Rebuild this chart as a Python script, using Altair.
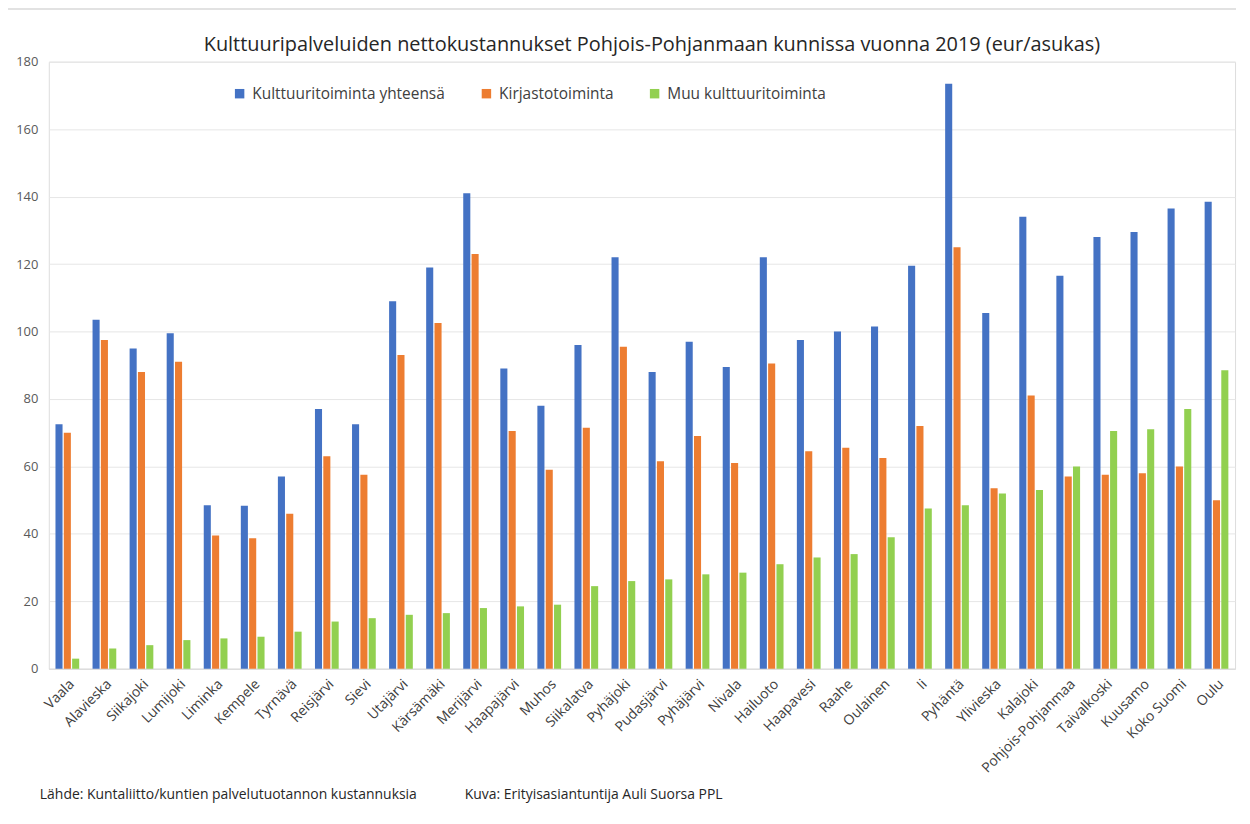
import altair as alt
import pandas as pd

categories = ["Vaala", "Alavieska", "Siikajoki", "Lumijoki", "Liminka", "Kempele", "Tyrnävä",
              "Reisjärvi", "Sievi", "Utajärvi", "Kärsämäki", "Merijärvi", "Haapajärvi", "Muhos",
              "Siikalatva", "Pyhäjoki", "Pudasjärvi", "Pyhäjärvi", "Nivala", "Hailuoto", "Haapavesi",
              "Raahe", "Oulainen", "Ii", "Pyhäntä", "Ylivieska", "Kalajoki", "Pohjois-Pohjanmaa",
              "Taivalkoski", "Kuusamo", "Koko Suomi", "Oulu"]

kulttuuri_yht = [72.5, 103.5, 95, 99.5, 48.5, 48.3, 57, 77, 72.5, 109, 119, 141, 89, 78,
                 96, 122, 88, 97, 89.5, 122, 97.5, 100, 101.5, 119.5, 173.5, 105.5, 134, 116.5,
                 128, 129.5, 136.5, 138.5]
kirjasto = [70, 97.5, 88, 91, 39.5, 38.7, 46, 63, 57.5, 93, 102.5, 123, 70.5, 59,
            71.5, 95.5, 61.5, 69, 61, 90.5, 64.5, 65.5, 62.5, 72, 125, 53.5, 81, 57,
            57.5, 58, 60, 50]
muu = [3, 6, 7, 8.5, 9, 9.5, 11, 14, 15, 16, 16.5, 18, 18.5, 19,
       24.5, 26, 26.5, 28, 28.5, 31, 33, 34, 39, 47.5, 48.5, 52, 53, 60,
       70.5, 71, 77, 88.5]

series = ["Kulttuuritoiminta yhteensä", "Kirjastotoiminta", "Muu kulttuuritoiminta"]
colors = ["#4472C4", "#ED7D31", "#92D050"]

title_text = "Kulttuuripalveluiden nettokustannukset Pohjois-Pohjanmaan kunnissa vuonna 2019 (eur/asukas)"
footer_left = "Lähde: Kuntaliitto/kuntien palvelutuotannon kustannuksia"
footer_right = "Kuva: Erityisasiantuntija Auli Suorsa PPL"

rows = []
for i, c in enumerate(categories):
    for s, vals in zip(series, [kulttuuri_yht, kirjasto, muu]):
        rows.append({"kunta": c, "sarja": s, "arvo": vals[i]})
df = pd.DataFrame(rows)

FONT = "Open Sans"

bars = alt.Chart(df).mark_bar().encode(
    x=alt.X("kunta:N", sort=categories, title=None,
            scale=alt.Scale(paddingInner=0.36, paddingOuter=0.18),
            axis=alt.Axis(labelAngle=-45, labelFontSize=14, labelColor="#404040",
                          labelFont=FONT, ticks=False, domainColor="#d9d9d9",
                          labelPadding=8, grid=False, labelLimit=300)),
    xOffset=alt.XOffset("sarja:N", sort=series, scale=alt.Scale(paddingInner=0.15)),
    y=alt.Y("arvo:Q", title=None,
            scale=alt.Scale(domain=[0, 180]),
            axis=alt.Axis(values=list(range(0, 181, 20)), labelFontSize=13,
                          labelColor="#595959", labelFont=FONT, ticks=False,
                          domain=False, gridColor="#e6e6e6", labelPadding=11)),
    color=alt.Color("sarja:N", sort=series,
                    scale=alt.Scale(domain=series, range=colors),
                    legend=alt.Legend(orient="none", legendX=184, legendY=24,
                                      direction="horizontal", title=None,
                                      symbolType="square", symbolSize=90,
                                      symbolStrokeWidth=0, labelLimit=400,
                                      labelFontSize=15.5, labelFont=FONT,
                                      labelColor="#404040", columnPadding=33,
                                      labelOffset=5)),
)

title_mark = alt.Chart(pd.DataFrame({"t": [title_text]})).mark_text(
    align="center", baseline="middle", fontSize=20, font=FONT, color="#262626"
).encode(x=alt.value(606), y=alt.value(-17), text="t:N")

foot1 = alt.Chart(pd.DataFrame({"t": [footer_left]})).mark_text(
    align="left", baseline="middle", fontSize=14, font=FONT, color="#262626"
).encode(x=alt.value(-9), y=alt.value(737), text="t:N")

foot2 = alt.Chart(pd.DataFrame({"t": [footer_right]})).mark_text(
    align="left", baseline="middle", fontSize=14, font=FONT, color="#262626"
).encode(x=alt.value(418), y=alt.value(737), text="t:N")

frame_df = pd.DataFrame({"f": [1]})
frame_top = alt.Chart(frame_df).mark_rule(color="#d9d9d9", strokeWidth=1.5).encode(
    x=alt.value(-42), x2=alt.value(1193), y=alt.value(-53))
frame_left = alt.Chart(frame_df).mark_rule(color="#d9d9d9", strokeWidth=1.5).encode(
    x=alt.value(-42), y=alt.value(-53), y2=alt.value(756))

chart = alt.layer(frame_top, frame_left, bars, title_mark, foot1, foot2).properties(
    width=1192, height=610,
    padding={"left": -2, "top": -2, "right": 5, "bottom": 5},
).configure_view(stroke=None).configure(background="white")

chart.save("out.html", embed_options={"renderer": "svg", "actions": False})
